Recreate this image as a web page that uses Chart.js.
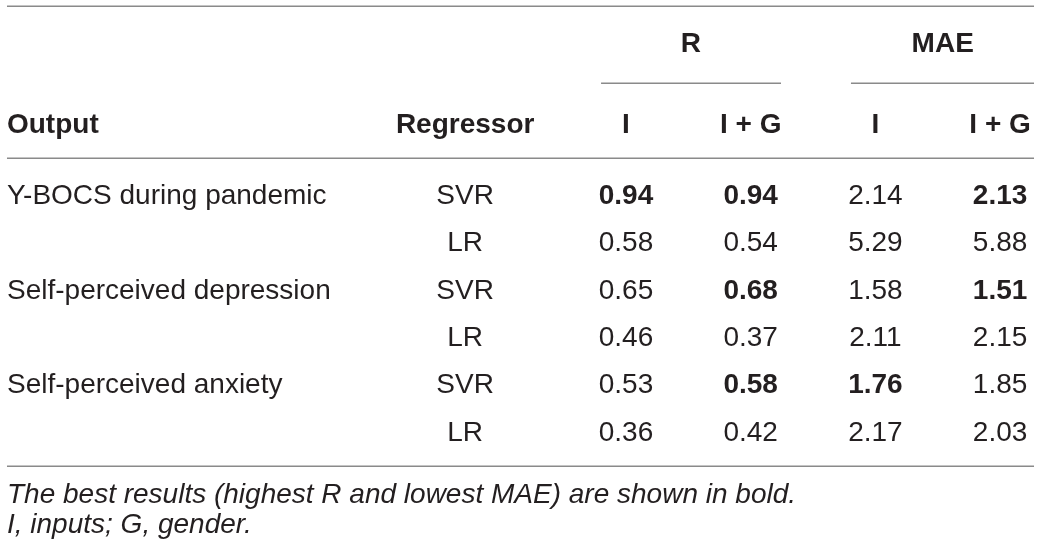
<!DOCTYPE html>
<html>
<head>
<meta charset="utf-8">
<script src="https://cdn.jsdelivr.net/npm/chart.js@4"></script>
<style>
  html, body { margin: 0; padding: 0; background: #ffffff; }
  #wrap { width: 1040px; height: 552px; }
</style>
</head>
<body>
<div id="wrap"><canvas id="c" width="1040" height="552"></canvas></div>
<script>
// ---- data ----
const outputs = ['Y-BOCS during pandemic', '', 'Self-perceived depression', '', 'Self-perceived anxiety', ''];
const regressors = ['SVR', 'LR', 'SVR', 'LR', 'SVR', 'LR'];
const groupOf = [0, 0, 1, 1, 2, 2];
const rI   = [0.94, 0.58, 0.65, 0.46, 0.53, 0.36];
const rIG  = [0.94, 0.54, 0.68, 0.37, 0.58, 0.42];
const maeI  = [2.14, 5.29, 1.58, 2.11, 1.76, 2.17];
const maeIG = [2.13, 5.88, 1.51, 2.15, 1.85, 2.03];
const groupHeaders = ['R', 'MAE'];
const colHeaders = ['Output', 'Regressor', 'I', 'I + G', 'I', 'I + G'];
const notes = ['The best results (highest R and lowest MAE) are shown in bold.', 'I, inputs; G, gender.'];

// bold = best per output group (highest R, lowest MAE)
function bestFlags(arrs, higher) {
  return arrs.map(a => a.map((v, i) => {
    const g = groupOf[i];
    const all = [];
    arrs.forEach(b => b.forEach((w, j) => { if (groupOf[j] === g) all.push(w); }));
    const best = higher ? Math.max(...all) : Math.min(...all);
    return v === best;
  }));
}
const rBold = bestFlags([rI, rIG], true);
const maeBold = bestFlags([maeI, maeIG], false);

// ---- layout in scale units (x: value-column units, y: row units) ----
const LAYOUT = {
  xMin: -5.02, xMax: 3.32,
  yMin: -4.313, yMax: 7.357,
  outputX: -4.964, regX: -1.29, valX: [0, 1, 2, 3],
  tableL: -4.964, tableR: 3.272,
  groupSpans: [[-0.2, 1.243], [1.804, 3.272]],
  groupX: [0.52, 2.54],
  ruleTop: -4.186, ruleSub: -2.55, ruleHead: -0.9725, ruleBottom: 5.539,
  groupY: -3.214, headY: -1.501, noteY: [6.321, 6.956]
};
const FONT = '"Liberation Sans", Arial, Helvetica, sans-serif';
const INK = '#231f20';
const RULE = '#8a8a8a';

function colData(xv) { return outputs.map((_, i) => ({ x: xv, y: i })); }

const valueCols = [
  { vals: rI, bold: rBold[0] },
  { vals: rIG, bold: rBold[1] },
  { vals: maeI, bold: maeBold[0] },
  { vals: maeIG, bold: maeBold[1] }
];

const datasets = [
  { label: 'Output', data: colData(LAYOUT.outputX), kind: 'text', texts: outputs, align: 'left' },
  { label: 'Regressor', data: colData(LAYOUT.regX), kind: 'text', texts: regressors, align: 'center' }
].concat(valueCols.map((c, k) => ({
  label: colHeaders[k + 2], data: colData(LAYOUT.valX[k]), kind: 'num',
  texts: c.vals.map(v => v.toFixed(2)), bolds: c.bold, align: 'center'
})));
datasets.forEach(d => { d.pointRadius = 0; d.pointHoverRadius = 0; d.showLine = false; });

const tablePlugin = {
  id: 'tablePlugin',
  afterDatasetsDraw(chart) {
    const ctx = chart.ctx;
    const xs = chart.scales.x, ys = chart.scales.y;
    const X = v => xs.getPixelForValue(v), Y = v => ys.getPixelForValue(v);
    ctx.save();
    // rules
    ctx.strokeStyle = RULE;
    ctx.lineWidth = 1.5;
    const hline = (a, b, yv) => {
      const y = Math.round(Y(yv)) + 0.25;
      ctx.beginPath(); ctx.moveTo(X(a), y); ctx.lineTo(X(b), y); ctx.stroke();
    };
    hline(LAYOUT.tableL, LAYOUT.tableR, LAYOUT.ruleTop);
    LAYOUT.groupSpans.forEach(s => hline(s[0], s[1], LAYOUT.ruleSub));
    hline(LAYOUT.tableL, LAYOUT.tableR, LAYOUT.ruleHead);
    hline(LAYOUT.tableL, LAYOUT.tableR, LAYOUT.ruleBottom);

    ctx.fillStyle = INK;
    ctx.textBaseline = 'alphabetic';
    // group headers
    ctx.font = 'bold 28px ' + FONT;
    ctx.textAlign = 'center';
    groupHeaders.forEach((t, i) => ctx.fillText(t, X(LAYOUT.groupX[i]), Y(LAYOUT.groupY)));
    // column headers
    const headX = [LAYOUT.outputX, LAYOUT.regX].concat(LAYOUT.valX);
    colHeaders.forEach((t, i) => {
      ctx.textAlign = i === 0 ? 'left' : 'center';
      ctx.fillText(t, X(headX[i]), Y(LAYOUT.headY));
    });
    // cells, positioned by the dataset elements
    chart.data.datasets.forEach((ds, di) => {
      const meta = chart.getDatasetMeta(di);
      meta.data.forEach((el, i) => {
        const t = ds.texts[i];
        if (!t) return;
        const bold = ds.bolds ? ds.bolds[i] : false;
        ctx.font = (bold ? 'bold ' : '') + '28px ' + FONT;
        ctx.textAlign = ds.align;
        ctx.fillText(t, el.x, el.y);
      });
    });
    // footnotes
    ctx.font = 'italic 28px ' + FONT;
    ctx.textAlign = 'left';
    notes.forEach((t, i) => ctx.fillText(t, X(LAYOUT.outputX), Y(LAYOUT.noteY[i])));
    ctx.restore();
  }
};

new Chart(document.getElementById('c'), {
  type: 'scatter',
  data: { datasets },
  options: {
    responsive: false,
    animation: false,
    devicePixelRatio: 1,
    layout: { padding: 0 },
    plugins: { legend: { display: false }, tooltip: { enabled: false } },
    events: [],
    scales: {
      x: { type: 'linear', min: LAYOUT.xMin, max: LAYOUT.xMax, display: false },
      y: { type: 'linear', min: LAYOUT.yMin, max: LAYOUT.yMax, reverse: true, display: false }
    }
  },
  plugins: [tablePlugin]
});
</script>
</body>
</html>
